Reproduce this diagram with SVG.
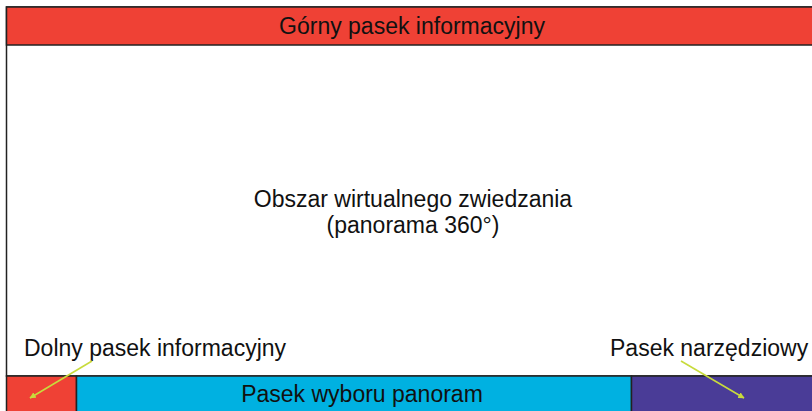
<svg xmlns="http://www.w3.org/2000/svg" width="812" height="411" viewBox="0 0 812 411">
<style>
text{font-family:"Liberation Sans",Arial,sans-serif;font-size:23px;fill:#111;}
.c{text-anchor:middle;}
.bar{stroke:#222;stroke-width:1.5;}
.arr{stroke:#c8db3c;stroke-width:1.6;fill:none;marker-end:url(#ah);}
</style>
<defs>
<marker id="ah" viewBox="0 0 10 10" refX="9" refY="5" markerWidth="4" markerHeight="4" orient="auto" markerUnits="strokeWidth">
<path d="M0,0 L10,5 L0,10 z" fill="#c8db3c"/>
</marker>
</defs>
<rect x="0" y="0" width="812" height="411" fill="#fff"/>
<g id="view-area">
<rect class="bar" x="6.5" y="7" width="810" height="369" fill="#fff"/>
<text class="c" x="413" y="207">Obszar wirtualnego zwiedzania</text>
<text class="c" x="413" y="233">(panorama 360°)</text>
</g>
<g id="top-bar">
<rect class="bar" x="6.5" y="7" width="810" height="38" fill="#ef4135"/>
<text class="c" x="412" y="34">Górny pasek informacyjny</text>
</g>
<g id="bottom-info">
<rect class="bar" x="6.5" y="376" width="70" height="40" fill="#ef4135"/>
<text x="24" y="356">Dolny pasek informacyjny</text>
</g>
<g id="panorama-bar">
<rect class="bar" x="76.5" y="376" width="555" height="40" fill="#00b1e1"/>
<text class="c" x="362" y="402">Pasek wyboru panoram</text>
</g>
<g id="toolbar">
<rect class="bar" x="631.5" y="376" width="190" height="40" fill="#4a3c97"/>
<text x="610" y="356">Pasek narzędziowy</text>
</g>
<g id="connectors">
<line class="arr" x1="92" y1="361" x2="30" y2="398"/>
<line class="arr" x1="681" y1="361" x2="744" y2="398"/>
</g>
</svg>
